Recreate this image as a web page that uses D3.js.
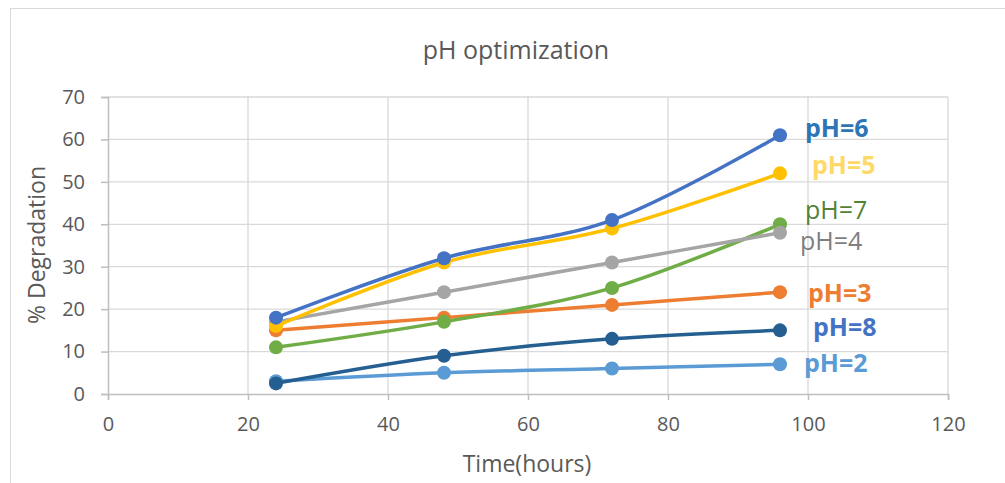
<!DOCTYPE html>
<html>
<head>
<meta charset="utf-8">
<script src="https://cdn.jsdelivr.net/npm/d3@7"></script>
<style>
  body { margin: 0; background: #fff; }
  text { font-family: "Open Sans", "Liberation Sans", sans-serif; }
</style>
</head>
<body>
<svg id="chart" width="1005" height="483"></svg>
<script>
// sampling times (hours)
const times = [24, 48, 72, 96];

// % degradation per pH
const pH6 = [18, 32, 41, 61];
const pH5 = [16, 31, 39, 52];
const pH4 = [17, 24, 31, 38];
const pH7 = [11, 17, 25, 40];
const pH3 = [15, 18, 21, 24];
const pH8 = [2.5, 9, 13, 15];
const pH2 = [3, 5, 6, 7];

const xTicks = [0, 20, 40, 60, 80, 100, 120];
const yTicks = [0, 10, 20, 30, 40, 50, 60, 70];

// draw order: last drawn ends on top
const series = [
  { name: "pH=2", values: pH2, color: "#5B9BD5", label: "#5B9BD5", bold: true, dx: 24, dy: -1 },
  { name: "pH=8", values: pH8, color: "#255E91", label: "#4472C4", bold: true, dx: 33, dy: -3 },
  { name: "pH=3", values: pH3, color: "#ED7D31", label: "#ED7D31", bold: true, dx: 28, dy: 1 },
  { name: "pH=7", values: pH7, color: "#70AD47", label: "#548235", bold: false, dx: 25, dy: -14 },
  { name: "pH=4", values: pH4, color: "#A5A5A5", label: "#7F7F7F", bold: false, dx: 20, dy: 8 },
  { name: "pH=5", values: pH5, color: "#FFC000", label: "#FFD966", bold: true, dx: 32, dy: -8 },
  { name: "pH=6", values: pH6, color: "#4472C4", label: "#2E75B6", bold: true, dx: 25, dy: -7 }
];

const svg = d3.select("#chart");

// chart frame
svg.append("rect")
  .attr("x", 10.5).attr("y", 8.5)
  .attr("width", 1010).attr("height", 490)
  .attr("fill", "#fff")
  .attr("stroke", "#d9d9d9");

const x = d3.scaleLinear().domain([0, 120]).range([108, 948]);
const y = d3.scaleLinear().domain([0, 70]).range([394, 97]);

// gridlines
svg.append("g").selectAll("line.h")
  .data(yTicks.slice(1))
  .enter().append("line")
  .attr("x1", x(0)).attr("x2", x(120))
  .attr("y1", d => y(d)).attr("y2", d => y(d))
  .attr("stroke", "#d9d9d9").attr("stroke-width", 1.3);

svg.append("g").selectAll("line.v")
  .data(xTicks.slice(1))
  .enter().append("line")
  .attr("x1", d => x(d)).attr("x2", d => x(d))
  .attr("y1", y(0)).attr("y2", y(70))
  .attr("stroke", "#d9d9d9").attr("stroke-width", 1.3);

// axes
const xAxis = svg.append("g")
  .attr("transform", `translate(0,${y(0)})`)
  .call(d3.axisBottom(x).tickValues(xTicks).tickSize(6).tickPadding(17));
const yAxis = svg.append("g")
  .attr("transform", `translate(${x(0)},0)`)
  .call(d3.axisLeft(y).tickValues(yTicks).tickSize(7).tickPadding(16));

[xAxis, yAxis].forEach(a => {
  a.select(".domain").attr("stroke", "#bfbfbf").attr("stroke-width", 1.5);
  a.selectAll(".tick line").attr("stroke", "#bfbfbf").attr("stroke-width", 1.5);
  a.selectAll(".tick text")
    .attr("fill", "#595959")
    .style("font-size", "20px")
    .style("font-family", "'Open Sans', sans-serif");
});

// titles
svg.append("text")
  .attr("x", 516).attr("y", 59)
  .attr("text-anchor", "middle")
  .attr("fill", "#595959")
  .style("font-size", "25px")
  .text("pH optimization");

svg.append("text")
  .attr("x", 527).attr("y", 472)
  .attr("text-anchor", "middle")
  .attr("fill", "#595959")
  .style("font-size", "23px")
  .text("Time(hours)");

svg.append("text")
  .attr("transform", "translate(45,245) rotate(-90)")
  .attr("text-anchor", "middle")
  .attr("fill", "#595959")
  .style("font-size", "23px")
  .text("% Degradation");

// lines
const line = d3.line()
  .x((d, i) => x(times[i]))
  .y(d => y(d))
  .curve(d3.curveCatmullRom.alpha(0));

const g = svg.append("g");
series.forEach(s => {
  g.append("path")
    .datum(s.values)
    .attr("d", line)
    .attr("fill", "none")
    .attr("stroke", s.color)
    .attr("stroke-width", 3.5)
    .attr("stroke-linecap", "round");
  g.selectAll(null)
    .data(s.values)
    .enter().append("circle")
    .attr("cx", (d, i) => x(times[i]))
    .attr("cy", d => y(d))
    .attr("r", 7)
    .attr("fill", s.color);
});

// end labels
series.forEach(s => {
  const last = s.values.length - 1;
  svg.append("text")
    .attr("x", x(times[last]) + s.dx)
    .attr("y", y(s.values[last]) + s.dy)
    .attr("dy", "0.35em")
    .attr("fill", s.label)
    .style("font-size", "25px")
    .style("font-weight", s.bold ? "bold" : "normal")
    .text(s.name);
});
</script>
</body>
</html>
